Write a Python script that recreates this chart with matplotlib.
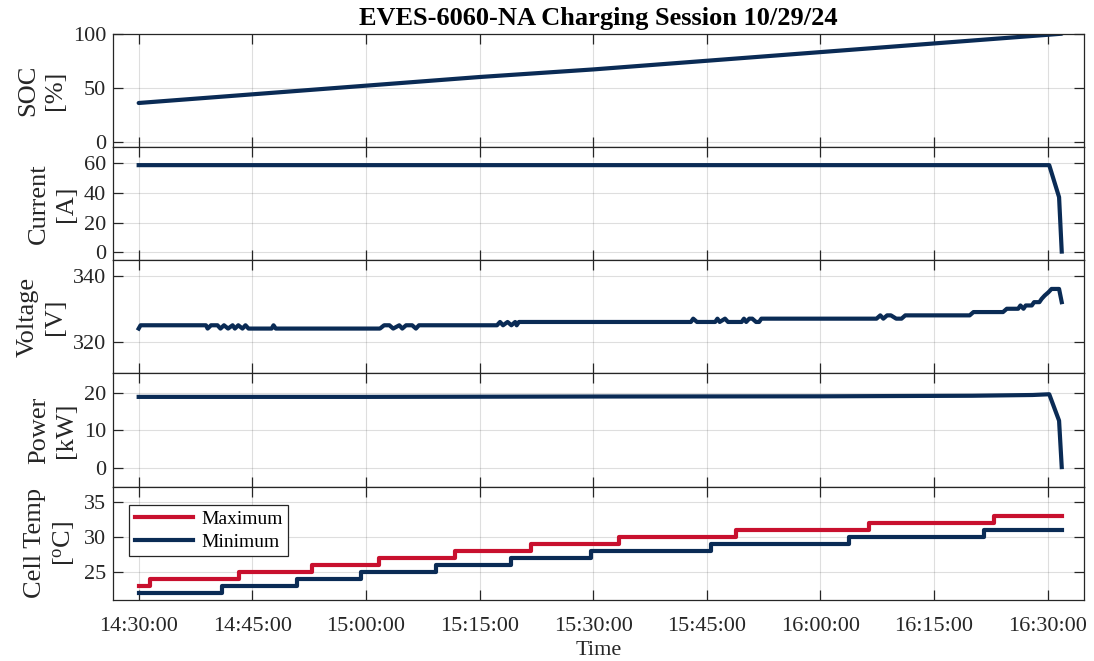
import numpy as np
import pandas as pd
import matplotlib
matplotlib.use("Agg")
import matplotlib.pyplot as plt
import matplotlib.dates as mdates

plt.rcParams['font.family'] = ['Liberation Serif', 'DejaVu Serif']
plt.rcParams['mathtext.fontset'] = 'custom'
plt.rcParams['mathtext.rm'] = 'Liberation Serif'
plt.rcParams['mathtext.it'] = 'Liberation Serif'

# ---------------- data (minutes after 14:30:00) ----------------
start = pd.Timestamp('2024-10-29 14:30:00')

soc_t = [0, 15, 30, 45, 60, 75, 90, 105, 120, 121.85]
soc_v = [36, 44, 52, 60, 67, 75, 83, 91, 99, 100]

cur_t = [0, 120.2, 121.5, 121.85]
cur_v = [58.5, 58.5, 37, 0.5]

volt_t = [0, 0.25, 8.88, 9.1, 9.55, 10.4, 10.8, 11.26, 11.8, 12.4, 12.7, 13.15,
          13.7, 14.1, 14.5, 17.55, 17.8, 18.1, 31.85, 32.4, 33.1, 33.6, 34.4,
          34.8, 35.3, 36.1, 36.6, 37.0, 47.3, 47.7, 48.1, 48.7, 49.2, 49.7,
          49.9, 50.2, 72.9, 73.2, 73.7, 76.1, 76.4, 76.7, 77.4, 77.8, 79.6,
          79.9, 80.2, 80.6, 81.0, 81.5, 81.9, 82.2, 97.4, 97.9, 98.3, 98.8,
          99.3, 100.0, 100.7, 101.2, 109.7, 110.2, 114.1, 114.6, 116.1, 116.4,
          116.8, 117.1, 117.9, 118.2, 118.9, 119.2, 119.6, 120.1, 120.5, 121.5,
          121.85]
volt_v = [324, 325, 325, 324, 325, 325, 324, 325, 324, 325, 324, 325,
          324, 325, 324, 324, 325, 324, 324, 325, 325, 324, 325,
          324, 325, 325, 324, 325, 325, 326, 325, 326, 325, 326,
          325, 326, 326, 327, 326, 326, 327, 326, 327, 326, 326,
          327, 326, 327, 327, 326, 326, 327, 327, 328, 327, 328,
          328, 327, 327, 328, 328, 329, 329, 330, 330, 331,
          330, 331, 331, 332, 332, 333, 334, 335, 336, 336,
          332]

pow_t = [0, 30, 60, 90, 110, 118, 120.2, 121.5, 121.85]
pow_v = [18.9, 18.9, 19.0, 19.05, 19.2, 19.4, 19.6, 12.6, 0.3]

tmax_t = [0, 1.5, 13.3, 22.9, 31.7, 41.7, 51.8, 63.4, 78.8, 96.4, 112.9, 121.85]
tmax_v = [23, 24, 25, 26, 27, 28, 29, 30, 31, 32, 33, 33]
tmin_t = [0, 11.0, 20.9, 29.4, 39.2, 49.2, 59.7, 75.5, 93.8, 111.6, 121.85]
tmin_v = [22, 23, 24, 25, 26, 27, 28, 29, 30, 31, 31]

title = 'EVES-6060-NA Charging Session 10/29/24'
ylabels = ['SOC\n[%]', 'Current\n[A]', 'Voltage\n[V]', 'Power\n[kW]',
           'Cell Temp\n[$^{\\mathrm{o}}$C]']
yticks = [[0, 50, 100], [0, 20, 40, 60], [320, 340], [0, 10, 20], [25, 30, 35]]
ylims = [(-4.6, 100), (-5.3, 70.7), (310.4, 344.7), (-4.9, 25.1), (21.0, 37.1)]

# ---------------- helpers ----------------
def tt(mins):
    return start + pd.to_timedelta(np.asarray(mins, dtype=float), unit='m')

NAVY = '#0a2b55'
RED = '#c8102e'
AXC = '#262626'

W, H = 1094, 661
fig = plt.figure(figsize=(W / 100, H / 100), dpi=100)

left = 113.3 / W
right = 1084.3 / W
top_px = 33.7
ph = (600 - 33.7) / 5

axes = []
for i in range(5):
    b = 1 - (top_px + (i + 1) * ph) / H
    ax = fig.add_axes([left, b, right - left, ph / H])
    axes.append(ax)

lw = 3.0
axes[0].plot(tt(soc_t), soc_v, color=NAVY, lw=lw, solid_capstyle='round')
axes[1].plot(tt(cur_t), cur_v, color=NAVY, lw=lw)
axes[2].plot(tt(volt_t), volt_v, color=NAVY, lw=lw, solid_joinstyle='round')
axes[3].plot(tt(pow_t), pow_v, color=NAVY, lw=lw)
axes[4].plot(tt(tmax_t), tmax_v, color=RED, lw=lw, drawstyle='steps-post', label='Maximum')
axes[4].plot(tt(tmin_t), tmin_v, color=NAVY, lw=lw, drawstyle='steps-post', label='Minimum')

xl = (tt([-3.35])[0], tt([124.83])[0])
for i, ax in enumerate(axes):
    ax.set_xlim(xl)
    ax.set_ylim(ylims[i])
    ax.set_yticks(yticks[i])
    ax.xaxis.set_major_locator(mdates.MinuteLocator(byminute=[0, 15, 30, 45]))
    ax.xaxis.set_major_formatter(mdates.DateFormatter('%H:%M:%S'))
    ax.grid(True, color=AXC, alpha=0.15, lw=0.8)
    for s in ax.spines.values():
        s.set_color(AXC)
        s.set_linewidth(0.9)
    ax.tick_params(direction='in', length=7, width=0.9, color=AXC,
                   top=True, right=True, labelsize=16, labelcolor=AXC)
    ax.tick_params(axis='y', pad=5)
    ax.tick_params(axis='x', pad=12)
    if i < 4:
        ax.tick_params(labelbottom=False)
    ax.set_ylabel(ylabels[i], fontsize=19, color=AXC, labelpad=5,
                  multialignment='center', linespacing=1.3)

axes[0].set_title(title, fontsize=19, fontweight='bold', pad=6, color='black')
axes[4].set_xlabel('Time', fontsize=16, color=AXC)
axes[4].xaxis.set_label_coords(0.5, -0.533)
axes[4].xaxis.label.set_va('bottom')

leg = axes[4].legend(loc='upper left', bbox_to_anchor=(0.0162, 0.841),
                     fontsize=14, frameon=True, fancybox=False,
                     edgecolor=AXC, handlelength=3.0, borderaxespad=0.0,
                     borderpad=0.3, labelspacing=0.25, handletextpad=0.4)
leg.get_frame().set_linewidth(0.9)
leg.get_frame().set_alpha(1)

fig.savefig('out.png', dpi=100)
